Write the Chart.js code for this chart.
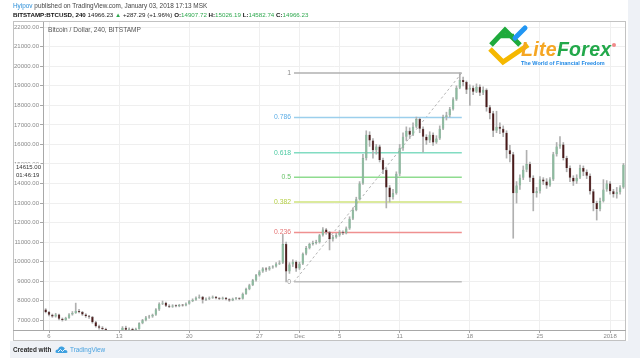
<!DOCTYPE html>
<html><head><meta charset="utf-8">
<script src="https://cdn.jsdelivr.net/npm/chart.js@4.4.0/dist/chart.umd.min.js"></script>
<style>
html,body{margin:0;padding:0;background:#fff;}
body{width:640px;height:358px;position:relative;overflow:hidden;font-family:"Liberation Sans",Arial,sans-serif;}
#c{position:absolute;left:0;top:0;z-index:2;}
.bg{position:absolute;background:#eef1f6;z-index:1;}
.t{position:absolute;white-space:nowrap;line-height:1;z-index:3;}
#h1{left:13px;top:2.5px;font-size:6.4px;color:#444;}
#h1 .u{color:#2a8ed8;}
#h2{left:13px;top:12px;font-size:6.2px;color:#222;}
#h2 b{font-weight:bold;color:#111;}
#h2 .g{color:#2fa84f;}
#ttl{left:48px;top:27px;font-size:6.6px;color:#555;}
#ft1{left:13px;top:346.5px;font-size:6.4px;color:#2a2a2a;font-weight:bold;}
#ft2{left:70px;top:346.5px;font-size:6.4px;color:#4aa3e0;}
#lf{left:521px;top:40px;font-size:19.5px;font-weight:bold;font-style:italic;letter-spacing:0.3px;}
#lf .a{color:#f5a623;}#lf .b{color:#22a84a;}
#tag{left:521px;top:60.5px;font-size:5.5px;font-weight:bold;color:#1e88e5;}
svg{position:absolute;z-index:3;}
</style></head>
<body>
<div class="bg" style="left:10px;top:341px;width:618px;height:17px;"></div>
<div class="bg" style="left:628px;top:0;width:12px;height:358px;"></div>
<canvas id="c" width="640" height="358" style="width:640px;height:358px"></canvas>
<div class="t" id="h1"><span class="u">Hyipov</span> published on TradingView.com, January 03, 2018 17:13 MSK</div>
<div class="t" id="h2"><b>BITSTAMP:BTCUSD, 240</b> 14966.23 <span class="g">▲</span> +287.29 (+1.96%) <b>O:</b><span class="g">14907.72</span> <b>H:</b><span class="g">15026.19</span> <b>L:</b><span class="g">14582.74</span> <b>C:</b><span class="g">14966.23</span></div>
<div class="t" id="ttl">Bitcoin / Dollar, 240, BITSTAMP</div>
<svg style="left:484px;top:22px" width="48" height="46" viewBox="484 22 48 46">
<path d="M490 49 L503 62 L528 45" stroke="#f5b800" stroke-width="5" fill="none" stroke-linejoin="miter"/>
<path d="M491 45 L505 30 L520 45" stroke="#1faa3c" stroke-width="5" fill="none"/>
<path d="M499 36 L514 36" stroke="#1faa3c" stroke-width="4.5" fill="none"/>
<path d="M515 38 L525 28" stroke="#2196f3" stroke-width="5" fill="none" stroke-linecap="round"/>
</svg>
<div class="t" id="lf"><span class="a">Lite</span><span class="b">Forex</span></div>
<svg style="left:611px;top:42px" width="6" height="6"><circle cx="3" cy="3" r="2" fill="#f08a8a"/></svg>
<div class="t" id="tag">The World of Financial Freedom</div>
<div class="t" id="ft1">Created with</div>
<svg style="left:55px;top:345px" width="13" height="9" viewBox="0 0 13 9"><path d="M2 8 Q0 8 0.5 6 Q1 4 3 4.5 Q4 1 7 1.5 Q10 2 10 5 Q12.5 5 12.5 7 Q12.5 8 11 8 Z" fill="#3da0e0"/><path d="M3 7 L5.5 4.5 L7.5 6.5 L10 4" stroke="#fff" stroke-width="0.9" fill="none"/></svg>
<div class="t" id="ft2">TradingView</div>
<script>
// ---- data (8-hour candles, day 0 = 6 Nov 2017 00:00) ----
const START_DAY = -1/3;
const STEP_DAY = 1/3;
const opens = [7550,7420,7280,7200,7300,7080,7020,7120,7300,7380,
7480,7420,7300,7220,7180,6900,6700,6620,6560,6420,
6300,6000,5800,6300,6620,6520,6560,6500,6560,6850,
7000,7150,7200,7280,7550,7850,7900,7750,7700,7760,
7720,7780,7760,7850,7980,8050,8150,8200,8050,8100,
8150,8200,8130,8100,8150,8080,8020,8100,8120,8100,
8350,8600,8800,9050,9300,9500,9650,9600,9700,9750,
9900,9950,10900,9500,9850,10000,9650,9900,10400,10700,
10900,10950,11000,11350,11650,11500,11150,11250,11350,11500,
11450,11700,12200,12650,13200,14000,15300,16500,16200,15700,
15900,15200,14700,13800,13300,13500,14500,15800,16400,16700,
16500,16900,17300,16800,16400,16200,16500,16100,16300,16800,
17400,17500,17800,18300,18900,19300,19200,18800,18900,18700,
18950,18650,18800,17900,17600,16700,16900,16800,16600,15700,
15500,13500,13900,14300,14700,15000,14300,13500,13600,14200,
14100,13900,14200,15500,15900,16000,15300,14800,14300,14100,
14300,14800,14600,14400,13600,13000,12700,13100,13700,14000,
13600,13450,13550,13800];
const closes = [7420,7280,7200,7300,7080,7020,7120,7300,7380,7480,
7420,7300,7220,7180,6900,6700,6620,6560,6420,6300,
6000,5800,6300,6620,6520,6560,6500,6560,6850,7000,
7150,7200,7280,7550,7850,7900,7750,7700,7760,7720,
7780,7760,7850,7980,8050,8150,8200,8050,8100,8150,
8200,8130,8100,8150,8080,8020,8100,8120,8100,8350,
8600,8800,9050,9300,9500,9650,9600,9700,9750,9900,
9950,10900,9500,9850,10000,9650,9900,10400,10700,10900,
10950,11000,11350,11650,11500,11150,11250,11350,11500,11450,
11700,12200,12650,13200,14000,15300,16500,16200,15700,15900,
15200,14700,13800,13300,13500,14500,15800,16400,16700,16500,
16900,17300,16800,16400,16200,16500,16100,16300,16800,17400,
17500,17800,18300,18900,19300,19200,18800,18900,18700,18950,
18650,18800,17900,17600,16700,16900,16800,16600,15700,15500,
13500,13900,14300,14700,15000,14300,13500,13600,14200,14100,
13900,14200,15500,15900,16000,15300,14800,14300,14100,14300,
14800,14600,14400,13600,13000,12700,13100,13700,14000,13600,
13450,13550,13800,14966.23];
const highs = [7600,7460,7320,7360,7320,7120,7160,7340,7450,7880,
7560,7460,7340,7260,7200,6950,6760,6680,6600,6480,
6350,6100,6350,6680,6700,6620,6600,6600,6880,7050,
7200,7260,7320,7600,7900,7990,7930,7800,7800,7790,
7820,7810,7890,8020,8100,8200,8300,8230,8150,8200,
8250,8230,8160,8190,8180,8110,8140,8170,8150,8400,
8650,8850,9100,9350,9550,9700,9700,9760,9800,9950,
10050,11400,11000,9950,10100,10050,9980,10450,10780,10950,
11050,11100,11400,11750,11700,11550,11350,11450,11600,11580,
11780,12300,12750,13300,14100,15500,16700,16650,16300,16000,
15970,15300,14800,13900,13700,14600,16000,16600,16900,16850,
17100,17400,17350,16900,16500,16650,16600,16450,16950,17500,
17650,17900,18400,19000,19660,19450,19250,19050,19000,19100,
19050,18950,18850,18000,17700,17700,17100,16950,16700,15950,
15600,14100,14450,14900,15700,15100,14400,13800,14350,14300,
14250,14300,15600,16100,16400,16100,15400,14900,14400,14450,
14950,14900,14700,14500,13700,13100,13250,14200,14150,14100,
13700,13800,13900,15026.19];
const lows = [7380,7230,7150,7160,7020,6960,6990,7100,7260,7350,
7380,7250,7150,7100,6850,6650,6550,6450,6300,6200,
5900,5500,5750,6250,6450,6480,6440,6450,6540,6820,
6970,7100,7150,7250,7500,7800,7700,7650,7660,7680,
7690,7720,7740,7820,7950,8020,8120,7880,8000,8060,
8120,8090,8060,8070,8040,7970,8000,8070,8060,8080,
8320,8560,8770,9000,9260,9450,9500,9560,9660,9720,
9850,9900,8970,9400,9750,9500,9600,9850,10350,10650,
10850,10900,10950,11300,11400,10600,11050,11200,11300,11380,
11420,11650,12150,12600,13150,13950,15200,15900,15300,15500,
15100,14500,12750,13050,13200,13450,14400,15700,16200,16300,
16450,16850,16600,15600,16000,16100,15950,16050,16250,16750,
17250,17400,17750,18250,18850,19000,18600,18000,18550,18650,
18500,18550,17700,17300,16400,16600,16550,16400,15300,15100,
11200,13000,13700,14200,14600,14100,12600,13300,13500,13950,
13750,13850,14150,15400,15800,15200,14600,14100,13900,14000,
14250,14400,14250,13450,12600,12130,12600,13050,13600,13450,
13300,13250,13450,13750];

const xTickDays = [0, 7, 14, 21, 25, 29, 35, 42, 49, 56];
const xTickLabels = ['6', '13', '20', '27', 'Dec', '5', '11', '18', '25', '2018'];
const yTicks = [7000,8000,9000,10000,11000,12000,13000,14000,15000,16000,17000,18000,19000,20000,21000,22000];
const X_MIN = -0.6, X_MAX = 57.49;
const Y_MIN = 6504, Y_MAX = 22266;

const fibLevels = [0, 0.236, 0.382, 0.5, 0.618, 0.786, 1];
const fibLabels = ['0', '0.236', '0.382', '0.5', '0.618', '0.786', '1'];
const fibLow = 8975, fibHigh = 19660;
const fibStartDay = 24.45, fibEndDay = 41.2;
const fibLineColors = ['#bdbdbd','#ef9090','#cfe37c','#8fdc8f','#82dcc2','#9ccfec','#b0b0b0'];
const fibTextColors = ['#9a9a9a','#e57373','#b5cf45','#66c266','#4ccaa2','#5eaee6','#8a8a8a'];

const lastPrice = 14615;
const lastPriceText = ['14615.00', '01:46:19'];

// ---- build ----
const times = closes.map((_, i) => START_DAY + i * STEP_DAY);
const bodyData = closes.map((c, i) => ({x: times[i], y: [opens[i], c]}));
const wickData = closes.map((c, i) => ({x: times[i], y: [lows[i], highs[i]]}));
const isUp = i => closes[i] >= opens[i];

const datasets = [];
datasets.push({type:'bar', data: bodyData, grouped:false, barPercentage:1, categoryPercentage:0.74,
  backgroundColor: ctx => isUp(ctx.dataIndex) ? '#8dbb9f' : '#4a1a1a',
  borderColor: ctx => isUp(ctx.dataIndex) ? '#5f9a78' : '#3a1212', borderWidth:0.4, minBarLength:1, order:1});
datasets.push({type:'bar', data: wickData, grouped:false, barPercentage:1, categoryPercentage:1, maxBarThickness:1,
  backgroundColor: '#b0b0b0', borderWidth:0, order:2});
fibLevels.forEach((lv, i) => {
  const p = fibLow + lv * (fibHigh - fibLow);
  datasets.push({type:'line', data:[{x:fibStartDay, y:p},{x:fibEndDay, y:p}], borderColor: fibLineColors[i],
    borderWidth:1.5, pointRadius:0, order:3});
});
datasets.push({type:'line', data:[{x:fibStartDay, y:fibLow},{x:fibEndDay, y:fibHigh}], borderColor:'#a0a0a0',
  borderWidth:0.8, borderDash:[2.5,2.5], pointRadius:0, order:3});

const FONT = '"Liberation Sans", Arial, sans-serif';
const decor = {
  id:'decor',
  beforeDraw(chart){
    const c = chart.ctx; c.save();
    c.strokeStyle = '#c2c2c2'; c.lineWidth = 1;
    c.strokeRect(13.5, 21.5, 612, 319);
    c.restore();
  },
  afterDatasetsDraw(chart){
    const c = chart.ctx, xs = chart.scales.x, ys = chart.scales.y;
    c.save();
    c.font = '6.8px ' + FONT; c.textAlign = 'right'; c.textBaseline = 'middle';
    fibLevels.forEach((lv, i) => {
      const p = fibLow + lv * (fibHigh - fibLow);
      c.fillStyle = fibTextColors[i];
      c.fillText(fibLabels[i], xs.getPixelForValue(fibStartDay) - 3, ys.getPixelForValue(p));
    });
    c.restore();
  },
  afterDraw(chart){
    const c = chart.ctx, ys = chart.scales.y;
    c.save();
    c.strokeStyle = '#a8a8a8'; c.lineWidth = 1;
    c.beginPath(); c.moveTo(13, 330.5); c.lineTo(43, 330.5); c.stroke();
    const y = ys.getPixelForValue(lastPrice);
    c.fillStyle = '#ffffff'; c.fillRect(14, y - 8, 27, 16.5);
    c.fillStyle = '#333'; c.font = '6px ' + FONT; c.textAlign = 'left'; c.textBaseline = 'middle';
    c.fillText(lastPriceText[0], 16, y - 4);
    c.fillText(lastPriceText[1], 16, y + 4.2);
    c.restore();
  }
};

new Chart(document.getElementById('c'), {
  type:'bar',
  data:{datasets},
  plugins:[decor],
  options:{
    responsive:false, devicePixelRatio:1, animation:false,
    layout:{padding:{left:13, right:15, top:22, bottom:18}},
    plugins:{legend:{display:false}, tooltip:{enabled:false}},
    scales:{
      x:{type:'linear', min:X_MIN, max:X_MAX, offset:false,
        afterBuildTicks: s => { s.ticks = xTickDays.map(v => ({value:v})); },
        afterFit: s => { s.height = 10; },
        grid:{color:'#efefef', tickColor:'#a8a8a8', tickLength:3, offset:false},
        border:{color:'#a8a8a8'},
        ticks:{autoSkip:false, maxRotation:0, padding:0, color:'#8a8a8a', font:{size:6, family:FONT},
          callback:(v, i) => xTickLabels[i]}},
      y:{type:'linear', min:Y_MIN, max:Y_MAX,
        afterBuildTicks: s => { s.ticks = yTicks.map(v => ({value:v})); },
        afterFit: s => { s.width = 30; },
        grid:{color:'#efefef', tickColor:'#a8a8a8', tickLength:3},
        border:{color:'#a8a8a8'},
        ticks:{padding:1, color:'#8a8a8a', font:{size:6, family:FONT}, callback: v => Number(v).toFixed(2)}}
    }
  }
});
</script>
</body></html>
